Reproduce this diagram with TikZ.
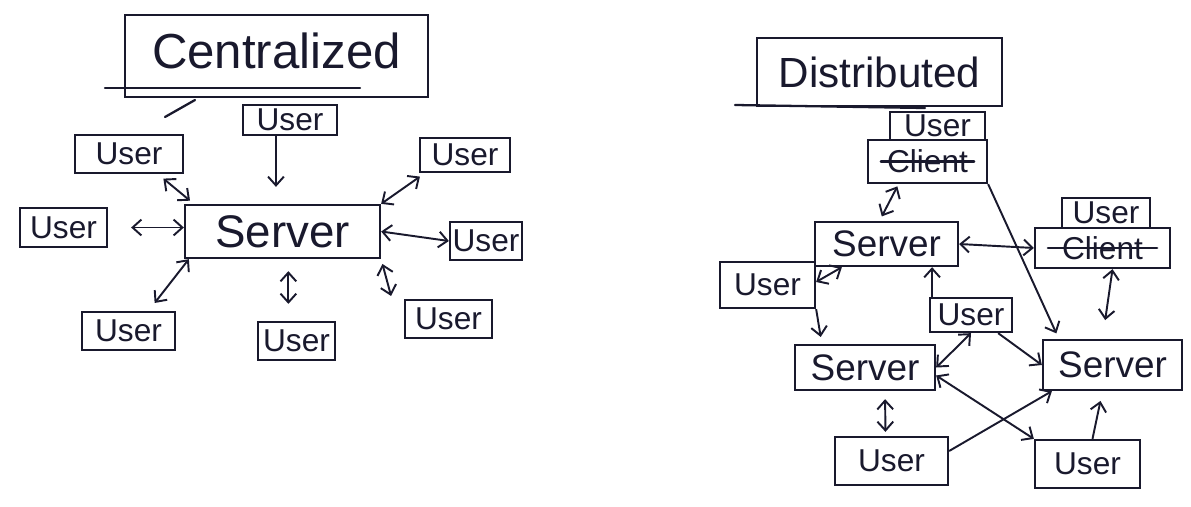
\documentclass[tikz,border=0pt]{standalone}
\usepackage{fontspec}
\setmainfont{Liberation Sans}
\usetikzlibrary{calc,arrows.meta}
\definecolor{ink}{RGB}{25,25,45}
\tikzset{
  box/.style={draw=ink, line width=1.3pt, inner sep=0pt, text=ink, font=\fontsize{18}{20}\selectfont},
  sz/.style 2 args={minimum width=#1*0.02cm, minimum height=#2*0.02cm},
  sbox/.style={box, font=\fontsize{26}{28}\selectfont},
  dsbox/.style={box, font=\fontsize{21}{24}\selectfont},
  tbox/.style={box, font=\fontsize{28}{32}\selectfont},
  link/.style={draw=ink, line width=1.1pt, {Straight Barb[length=5pt,width=9pt]}-{Straight Barb[length=5pt,width=9pt]}},
  fwd/.style={draw=ink, line width=1.1pt, -{Straight Barb[length=5pt,width=9pt]}},
  stroke/.style={draw=ink, line width=1.3pt, line cap=round},
}
\begin{document}
\begin{tikzpicture}[x=0.02cm,y=-0.02cm]
\useasboundingbox (0,0) rectangle (1191,507);
% ---------- Centralized ----------
\node[tbox, sz={303}{82}] (ct) at (276.5,56) {\raisebox{6pt}{Centralized}};
\draw[stroke] (105,88) -- (360,88);
\draw[stroke] (165,117) -- (195,100);
\node[box, sz={94}{30}] (t) at (290,120) {User};
\node[box, sz={108}{38}] (ul) at (129,154) {User};
\node[box, sz={90}{34}] (ur) at (465,155) {User};
\node[sbox, sz={195}{53}] (srv) at (282.5,231.5) {Server};
\node[box, sz={87}{39}] (l) at (63.5,227.5) {User};
\node[box, sz={72}{38}] (r) at (486,241) {User};
\node[box, sz={93}{38}] (ll) at (128.5,331) {User};
\node[box, sz={77}{38}] (b) at (296.5,341) {User};
\node[box, sz={87}{38}] (lr) at (448.5,319) {User};
\draw[fwd, shorten >=0.34cm] (t.-131) -- (t.-131 |- srv.north);
\draw[link, shorten <=0.14cm, shorten >=0.1cm] ($(ul.south)+(29,0)$) -- ($(srv.north west)+(10,0)$);
\draw[link, shorten <=0.46cm] (l.east) -- (l.east -| srv.west);
\draw[link, shorten >=0.12cm] (srv.north east) -- ($(ur.south west)+(6,0)$);
\draw[link] (srv.east) -- (r.west);
\draw[link, shorten >=0.2cm] ($(srv.south west)+(5,0)$) -- ($(ll.north)+(20,0)$);
\draw[link, shorten <=0.24cm, shorten >=0.34cm] (srv.-78) -- (srv.-78 |- b.north);
\draw[link, shorten <=0.1cm, shorten >=0.06cm] (srv.south east) -- ($(lr.north west)+(-12,0)$);
% ---------- Distributed ----------
\node[box, font=\fontsize{24}{28}\selectfont, sz={245}{68}] (dt) at (879.5,72) {Distributed};
\draw[stroke] (735,105) -- (925,108);
\node[box, sz={95}{28}] (u1) at (937.5,126) {User};
\node[box, sz={119}{43}] (c1) at (927.5,161.5) {Client};
\draw[stroke] ($(c1.west)+(14,0)$) -- ($(c1.east)+(-14,0)$);
\node[dsbox, sz={143}{44}] (s1) at (886.5,244) {Server};
\node[box, sz={88}{30}] (u2) at (1106,213) {User};
\node[box, sz={135}{40}] (c2) at (1102.5,248) {Client};
\draw[stroke] ($(c2.west)+(14,0)$) -- ($(c2.east)+(-14,0)$);
\node[box, sz={95}{46}] (u3) at (767.5,285) {User};
\node[box, sz={82}{34}] (u4) at (971,315) {User};
\node[dsbox, sz={140}{45}] (s2) at (865,367.5) {Server};
\node[dsbox, sz={139}{50}] (s3) at (1112.5,365) {Server};
\node[box, sz={113}{48}] (u5) at (891.5,461) {User};
\node[box, sz={105}{48}] (u6) at (1087.5,464) {User};
\draw[link, shorten <=0.05cm, shorten >=0.1cm] ($(c1.south)+(-29,0)$) -- ($(s1.north)+(-7,0)$);
\draw[link] (s1.east) -- (c2.west);
\draw[fwd, shorten >=0.12cm] (c1.south east) -- ($(s3.north west)+(17,0)$);
\draw[link, shorten >=0.38cm] ($(c2.south)+(10,0)$) -- ($(s3.north)+(-10,0)$);
\draw[link] ($(u3.east)+(0,-3)$) -- ($(s1.south west)+(28,0)$);
\draw[fwd, shorten >=0.14cm] (u3.south east) -- ($(s2.north west)+(28,0)$);
\draw[fwd] (u4.155) -- (u4.155 |- s1.south);
\draw[link] (u4.south) -- (s2.east);
\draw[fwd] ($(u4.south east)+(-15,0)$) -- (s3.west);
\draw[link] ($(s2.east)+(0,8)$) -- (u6.north west);
\draw[link, shorten <=0.08cm, shorten >=0.16cm] ($(u5.north)+(-6,0)$) -- ($(s2.south)+(20,0)$);
\draw[fwd] ($(u5.east)+(0,-10)$) -- ($(s3.south west)+(10,0)$);
\draw[fwd, shorten >=0.2cm] ($(u6.north)+(5,0)$) -- ($(s3.south)+(-10,0)$);
\end{tikzpicture}
\end{document}
